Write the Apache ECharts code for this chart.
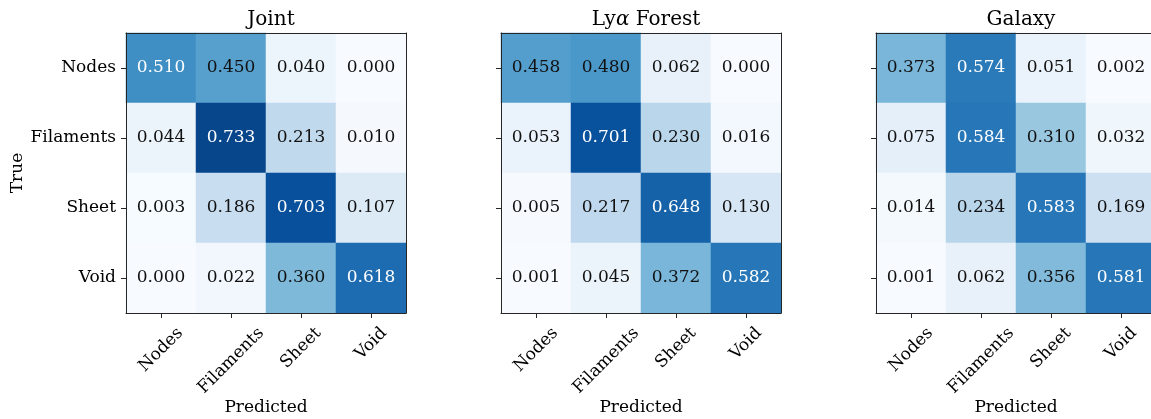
<!DOCTYPE html>
<html><head><meta charset="utf-8">
<script src="https://cdn.jsdelivr.net/npm/echarts@6/dist/echarts.min.js"></script>
<style>html,body{margin:0;padding:0;background:#fff}#c{width:1151px;height:419px}</style>
</head><body><div id="c"></div>
<script>
// ---------- data ----------
const categories = ['Nodes', 'Filaments', 'Sheet', 'Void'];
const panelTitles = ['Joint', 'Lyα Forest', 'Galaxy'];
const xAxisName = 'Predicted';
const yAxisName = 'True';
const joint = [
  [0.510, 0.450, 0.040, 0.000],
  [0.044, 0.733, 0.213, 0.010],
  [0.003, 0.186, 0.703, 0.107],
  [0.000, 0.022, 0.360, 0.618]
];
const lya = [
  [0.458, 0.480, 0.062, 0.000],
  [0.053, 0.701, 0.230, 0.016],
  [0.005, 0.217, 0.648, 0.130],
  [0.001, 0.045, 0.372, 0.582]
];
const galaxy = [
  [0.373, 0.574, 0.051, 0.002],
  [0.075, 0.584, 0.310, 0.032],
  [0.014, 0.234, 0.583, 0.169],
  [0.001, 0.062, 0.356, 0.581]
];
const matrices = [joint, lya, galaxy];
const colorMin = 0, colorMax = 0.8;
const whiteTextAbove = 0.5;
const blues = ['#f7fbff','#deebf7','#c6dbef','#9ecae1','#6baed6','#4292c6','#2171b5','#08519c','#08306b'];

// ---------- layout / style ----------
const FONT = "'DejaVu Serif', serif";
const FS = 17;
const INK = '#262626';
const gridLefts = [126, 501, 876];
const gridTop = 33, gridSize = 280;

// rotated x labels: emulate matplotlib's "bounding box centred on tick, top-aligned" placement
const ctx = document.createElement('canvas').getContext('2d');
ctx.font = FS + "px 'DejaVu Serif', serif";
const widths = categories.map(c => ctx.measureText(c).width);
const K = Math.max(...widths) / 4 + 0.5;
const xRich = {};
categories.forEach((c, i) => {
  const L = widths[i];
  const pr = K - L / 4;
  const pt = 2 * pr + L;
  xRich['t' + i] = { fontFamily: FONT, fontSize: FS, color: '#000', padding: [pt, pr, 0, 0] };
});
const xLabelMargin = 17.5 - Math.SQRT2 * K;

const chart = echarts.init(document.getElementById('c'), null, { renderer: 'canvas' });

const grids = [], xAxes = [], yAxes = [], series = [], titles = [];
matrices.forEach((m, p) => {
  grids.push({ left: gridLefts[p], top: gridTop, width: gridSize, height: gridSize,
    containLabel: false, outerBoundsMode: 'none' });
  titles.push({
    text: p === 1 ? '{n|Ly}{a|α}{n| Forest}' : panelTitles[p],
    left: gridLefts[p] + gridSize / 2, top: 5, textAlign: 'center',
    textStyle: { fontFamily: FONT, fontSize: 20, fontWeight: 'normal', color: '#000',
      rich: { n: { fontFamily: FONT, fontSize: 20, color: '#000' },
              a: { fontFamily: FONT, fontSize: 20, fontStyle: 'italic', color: '#000' } } }
  });
  xAxes.push({
    type: 'category', gridIndex: p, data: categories, position: 'bottom', z: 10,
    axisLine: { show: true, lineStyle: { color: INK, width: 1 } },
    axisTick: { show: true, alignWithLabel: true, length: 5, lineStyle: { color: INK } },
    axisLabel: { rotate: 45, margin: xLabelMargin, interval: 0, hideOverlap: false,
      fontFamily: FONT, fontSize: FS, color: '#000',
      formatter: (v, i) => '{t' + i + '|' + v + '}', rich: xRich },
    name: xAxisName, nameLocation: 'middle', nameGap: 86, nameMoveOverlap: false,
    nameTextStyle: { fontFamily: FONT, fontSize: FS, color: '#000' },
    splitLine: { show: false }, splitArea: { show: false }
  });
  xAxes.push({
    type: 'category', gridIndex: p, data: categories, position: 'top', z: 10,
    axisLine: { show: true, lineStyle: { color: INK, width: 1 } },
    axisTick: { show: false }, axisLabel: { show: false }, splitLine: { show: false }
  });
  yAxes.push({
    type: 'category', gridIndex: p, data: categories, inverse: true, position: 'left', z: 10,
    axisLine: { show: true, lineStyle: { color: INK, width: 1 } },
    axisTick: { show: true, alignWithLabel: true, length: 5, lineStyle: { color: INK } },
    axisLabel: { show: p === 0, margin: 10, fontFamily: FONT, fontSize: FS, color: '#000', interval: 0 },
    name: p === 0 ? yAxisName : '', nameLocation: 'middle', nameGap: 100, nameMoveOverlap: false,
    nameTextStyle: { fontFamily: FONT, fontSize: FS, color: '#000' },
    splitLine: { show: false }, splitArea: { show: false }
  });
  yAxes.push({
    type: 'category', gridIndex: p, data: categories, inverse: true, position: 'right', z: 10,
    axisLine: { show: true, lineStyle: { color: INK, width: 1 } },
    axisTick: { show: false }, axisLabel: { show: false }, splitLine: { show: false }
  });
  const data = [];
  m.forEach((row, r) => row.forEach((v, c) => {
    data.push({ value: [c, r, v], label: { color: v > whiteTextAbove ? '#ffffff' : '#111111' } });
  }));
  series.push({
    type: 'heatmap', xAxisIndex: p * 2, yAxisIndex: p * 2, data,
    label: { show: true, fontFamily: FONT, fontSize: FS, formatter: d => d.value[2].toFixed(3) },
    itemStyle: { borderWidth: 0 },
    emphasis: { disabled: true }
  });
});

chart.setOption({
  animation: false,
  backgroundColor: '#fff',
  title: titles,
  grid: grids,
  xAxis: xAxes,
  yAxis: yAxes,
  visualMap: { show: false, type: 'continuous', seriesIndex: [0, 1, 2], dimension: 2,
    min: colorMin, max: colorMax, inRange: { color: blues } },
  series
});
</script></body></html>
